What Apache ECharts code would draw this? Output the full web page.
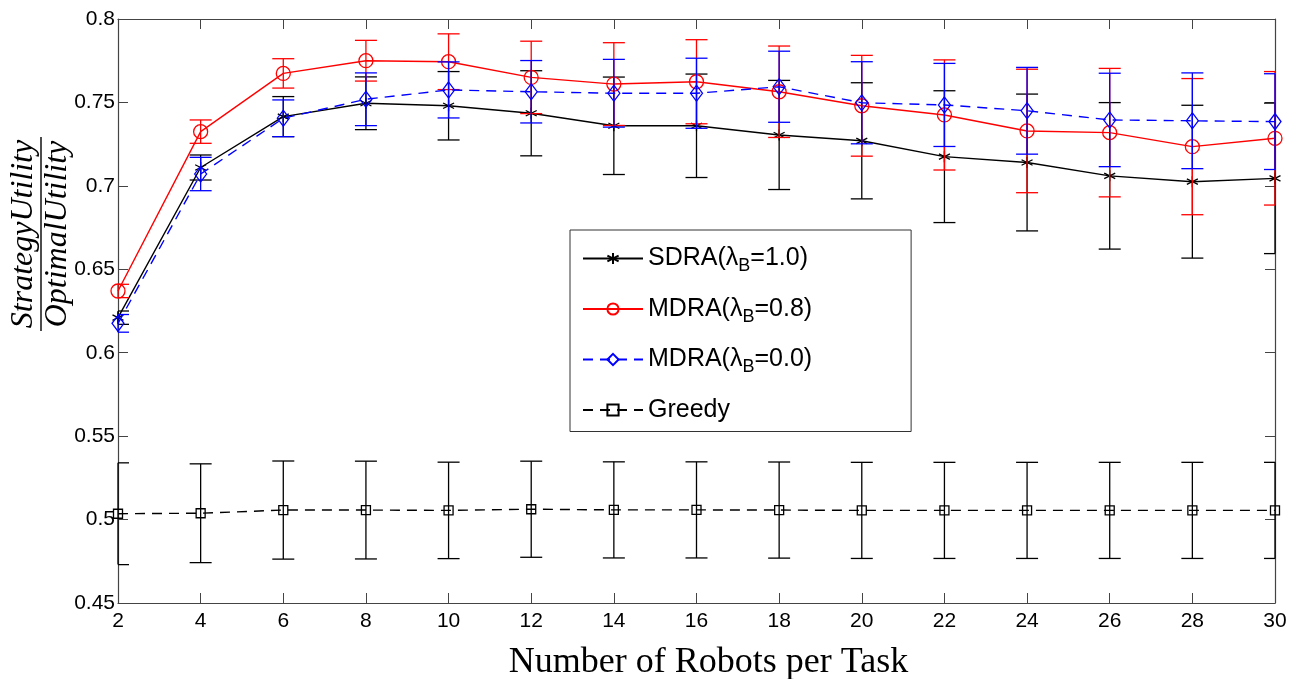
<!DOCTYPE html>
<html>
<head>
<meta charset="utf-8">
<script src="https://cdn.jsdelivr.net/npm/echarts@6/dist/echarts.min.js"></script>
<style>
html,body{margin:0;padding:0;background:#fff;}
#chart{width:1302px;height:679px;}
</style>
</head>
<body>
<div id="chart"></div>
<script>
// ---- data ----
const robots = [2, 4, 6, 8, 10, 12, 14, 16, 18, 20, 22, 24, 26, 28, 30];
const yTicks = [0.45, 0.5, 0.55, 0.6, 0.65, 0.7, 0.75, 0.8];

const sdraMean = [0.621, 0.711, 0.7415, 0.7495, 0.748, 0.7435, 0.736, 0.736, 0.7305, 0.727, 0.7175, 0.714, 0.706, 0.7025, 0.7045];
const sdraErr  = [0.004, 0.0075, 0.012, 0.0158, 0.0205, 0.0255, 0.0292, 0.031, 0.0327, 0.0348, 0.0395, 0.041, 0.0439, 0.0458, 0.0451];

const mdra08Mean = [0.637, 0.7325, 0.7674, 0.775, 0.7744, 0.765, 0.761, 0.7624, 0.7564, 0.748, 0.7425, 0.7329, 0.7319, 0.7235, 0.7285];
const mdra08Err  = [0.004, 0.007, 0.0088, 0.0122, 0.0167, 0.0217, 0.0248, 0.0252, 0.0274, 0.0302, 0.033, 0.037, 0.0385, 0.0408, 0.040];

const mdra00Mean = [0.6176, 0.7071, 0.7405, 0.7519, 0.7575, 0.7564, 0.7555, 0.7555, 0.7594, 0.7498, 0.7485, 0.745, 0.7395, 0.739, 0.7385];
const mdra00Err  = [0.0053, 0.010, 0.011, 0.0158, 0.0168, 0.0187, 0.0203, 0.021, 0.0213, 0.0246, 0.0249, 0.026, 0.028, 0.0287, 0.0287];

const greedyMean = [0.5035, 0.5038, 0.5057, 0.5057, 0.5055, 0.5062, 0.5058, 0.5058, 0.5057, 0.5055, 0.5055, 0.5055, 0.5055, 0.5055, 0.5055];
const greedyErr  = [0.0305, 0.0296, 0.0294, 0.0293, 0.0289, 0.0288, 0.0288, 0.0288, 0.0288, 0.0288, 0.0288, 0.0288, 0.0288, 0.0288, 0.0288];

const seriesNames = ['SDRA(λB=1.0)', 'MDRA(λB=0.8)', 'MDRA(λB=0.0)', 'Greedy'];
const xName = 'Number of Robots per Task';
const yNameTop = 'StrategyUtility';
const yNameBottom = 'OptimalUtility';

// ---- build ----
const sansNarrow = "'Liberation Sans Narrow', 'Liberation Sans', Arial, sans-serif";
const pts = (m) => robots.map((x, i) => [x, m[i]]);
const bars = (m, e) => robots.map((x, i) => [x, m[i] - e[i], m[i] + e[i]]);

function errorBars(name, mean, err, color, z) {
  return {
    type: 'custom', name: name + ' err', z: z, silent: true,
    data: bars(mean, err),
    encode: { x: 0, y: [1, 2] },
    renderItem: function (params, api) {
      const x = api.value(0);
      const lo = api.coord([x, api.value(1)]);
      const hi = api.coord([x, api.value(2)]);
      const cs = params.coordSys;
      const L = cs.x, R = cs.x + cs.width;
      const hw = 11;
      const st = { stroke: color, lineWidth: 1.3, fill: null };
      return {
        type: 'group',
        children: [
          { type: 'line', shape: { x1: lo[0], y1: lo[1], x2: hi[0], y2: hi[1] }, style: st },
          { type: 'line', shape: { x1: Math.max(L, hi[0] - hw), y1: hi[1], x2: Math.min(R, hi[0] + hw), y2: hi[1] }, style: st },
          { type: 'line', shape: { x1: Math.max(L, lo[0] - hw), y1: lo[1], x2: Math.min(R, lo[0] + hw), y2: lo[1] }, style: st }
        ]
      };
    }
  };
}

function lineSeries(name, mean, color, symbol, size, dashed, z) {
  return {
    type: 'line', name: name, z: z,
    data: pts(mean),
    symbol: symbol, symbolSize: size, showSymbol: true,
    lineStyle: { color: color, width: 1.4, type: dashed ? [10, 7] : 'solid' },
    itemStyle: { color: 'rgba(0,0,0,0)', borderColor: color, borderWidth: 1.3 },
    emphasis: { disabled: true },
    clip: false
  };
}

const starPath = 'path://M5,0L5,10M0.67,2.5L9.33,7.5M0.67,7.5L9.33,2.5';

const chart = echarts.init(document.getElementById('chart'), null, { renderer: 'canvas' });

const axisCol = '#444';
const option = {
  animation: false,
  backgroundColor: '#fff',
  grid: { left: 118, right: 27, top: 19, bottom: 76, containLabel: false, outerBoundsMode: 'none' },
  xAxis: [
    {
      type: 'value', min: 2, max: 30, interval: 2, position: 'bottom',
      name: xName, nameLocation: 'middle', nameGap: 42,
      nameTextStyle: { fontFamily: "'Liberation Serif', 'DejaVu Serif', serif", fontSize: 36, color: '#000', padding: [0, 0, 0, 24] },
      axisLine: { show: true, lineStyle: { color: axisCol, width: 1.2 } },
      axisTick: { show: true, inside: true, length: 10, lineStyle: { color: axisCol } },
      axisLabel: { color: '#000', fontFamily: sansNarrow, fontSize: 21, margin: 8 },
      splitLine: { show: false }
    },
    {
      type: 'value', min: 2, max: 30, interval: 2, position: 'top',
      axisLine: { show: true, lineStyle: { color: axisCol, width: 1.2 } },
      axisTick: { show: true, inside: true, length: 10, lineStyle: { color: axisCol } },
      axisLabel: { show: false }, splitLine: { show: false }
    }
  ],
  yAxis: [
    {
      type: 'value', min: yTicks[0], max: yTicks[yTicks.length - 1], interval: 0.05, position: 'left',
      axisLine: { show: true, lineStyle: { color: axisCol, width: 1.2 } },
      axisTick: { show: true, inside: true, length: 10, lineStyle: { color: axisCol } },
      axisLabel: { color: '#000', fontFamily: sansNarrow, fontSize: 21, margin: 3,
        formatter: v => String(parseFloat(v.toFixed(2))) },
      splitLine: { show: false }
    },
    {
      type: 'value', min: yTicks[0], max: yTicks[yTicks.length - 1], interval: 0.05, position: 'right',
      axisLine: { show: true, lineStyle: { color: axisCol, width: 1.2 } },
      axisTick: { show: true, inside: true, length: 10, lineStyle: { color: axisCol } },
      axisLabel: { show: false }, splitLine: { show: false }
    }
  ],
  legend: {
    data: seriesNames,
    orient: 'vertical', left: 570, top: 230,
    padding: [16, 99, 9, 12],
    itemGap: 21, itemWidth: 60, itemHeight: 14,
    borderColor: '#333', borderWidth: 1, backgroundColor: '#fff',
    selectedMode: false,
    formatter: function (name) {
      const m = name.match(/^(.*λ)B(=.*)$/);
      if (m) return '{n|' + m[1] + '}{s|B}{n|' + m[2] + '}';
      return '{n|' + name + '}';
    },
    textStyle: {
      color: '#000',
      rich: {
        n: { fontFamily: sansNarrow, fontSize: 25, lineHeight: 34, color: '#000' },
        s: { fontFamily: sansNarrow, fontSize: 18, lineHeight: 14, verticalAlign: 'bottom', color: '#000' }
      }
    }
  },
  graphic: [
    { type: 'text', x: 24, y: 234, rotation: Math.PI / 2,
      style: { text: yNameTop, fontFamily: "'Liberation Serif', serif", fontStyle: 'italic', fontSize: 32,
        fill: '#000', align: 'center', verticalAlign: 'middle', textAlign: 'center', textVerticalAlign: 'middle' } },
    { type: 'line', shape: { x1: 41, y1: 137, x2: 41, y2: 331 }, style: { stroke: '#000', lineWidth: 1.4 } },
    { type: 'text', x: 58, y: 234, rotation: Math.PI / 2,
      style: { text: yNameBottom, fontFamily: "'Liberation Serif', serif", fontStyle: 'italic', fontSize: 32,
        fill: '#000', align: 'center', verticalAlign: 'middle', textAlign: 'center', textVerticalAlign: 'middle' } }
  ],
  series: [
    errorBars(seriesNames[0], sdraMean, sdraErr, '#000', 2),
    lineSeries(seriesNames[0], sdraMean, '#000', starPath, 11, false, 3),
    errorBars(seriesNames[1], mdra08Mean, mdra08Err, '#ff0000', 4),
    lineSeries(seriesNames[1], mdra08Mean, '#ff0000', 'circle', 14, false, 5),
    errorBars(seriesNames[2], mdra00Mean, mdra00Err, '#0000ff', 6),
    lineSeries(seriesNames[2], mdra00Mean, '#0000ff', 'diamond', [12, 16], true, 7),
    errorBars(seriesNames[3], greedyMean, greedyErr, '#000', 8),
    lineSeries(seriesNames[3], greedyMean, '#000', 'rect', 9, true, 9)
  ]
};
chart.setOption(option);
</script>
</body>
</html>
